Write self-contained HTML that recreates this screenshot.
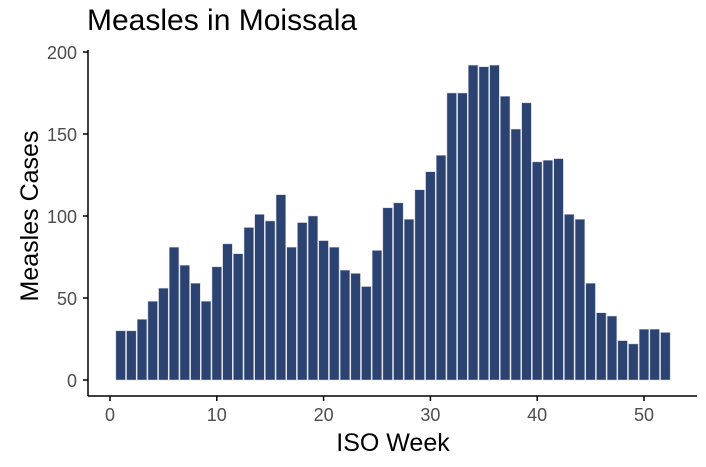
<!DOCTYPE html>
<html><head><meta charset="utf-8"><style>
body{margin:0;background:#fff;}
svg text{font-family:"Liberation Sans",sans-serif;}
</style></head><body>
<svg id="chart" width="706" height="462" xmlns="http://www.w3.org/2000/svg">
<text x="87" y="30" font-size="30" fill="#000">Measles in Moissala</text>
<g id="bars"></g>
<g id="axes"></g>
<text x="393" y="451" font-size="25" text-anchor="middle" fill="#000">ISO Week</text>
<text transform="translate(38,216) rotate(-90)" font-size="25" text-anchor="middle" fill="#000">Measles Cases</text>
</svg>
<script>
const weeks = [];
for (let i = 1; i <= 52; i++) weeks.push(i);
const cases = [30,30,37,48,56,81,70,59,48,69,83,77,93,101,97,113,81,96,100,85,81,67,65,57,79,105,108,98,116,127,137,175,175,192,191,192,173,153,169,133,134,135,101,98,59,41,39,24,22,31,31,29];
const yTicks = [0,50,100,150,200];
const xTicks = [0,10,20,30,40,50];

const ns = "http://www.w3.org/2000/svg";
const x = v => 110 + v * 10.68;
const y = v => 380 - v * 1.64;
const bw = 10.68 * 0.9;

const bars = document.getElementById('bars');
weeks.forEach((w, i) => {
  const r = document.createElementNS(ns, 'rect');
  r.setAttribute('x', x(w) - bw / 2);
  r.setAttribute('y', y(cases[i]));
  r.setAttribute('width', bw);
  r.setAttribute('height', y(0) - y(cases[i]));
  r.setAttribute('fill', '#2c4372');
  r.setAttribute('stroke', '#c9d0e0');
  r.setAttribute('stroke-width', '0.5');
  
  
  bars.appendChild(r);
});

const axes = document.getElementById('axes');
function line(x1, y1, x2, y2, name) {
  const l = document.createElementNS(ns, 'line');
  l.setAttribute('x1', x1); l.setAttribute('y1', y1);
  l.setAttribute('x2', x2); l.setAttribute('y2', y2);
  l.setAttribute('stroke', '#000');
  l.setAttribute('stroke-width', '1.5');
  
  
  axes.appendChild(l);
}
function text(tx, ty, s, anchor, name) {
  const t = document.createElementNS(ns, 'text');
  t.setAttribute('x', tx); t.setAttribute('y', ty);
  t.setAttribute('font-size', '18');
  t.setAttribute('fill', '#4d4d4d');
  t.setAttribute('text-anchor', anchor);
  t.textContent = s;
  
  
  axes.appendChild(t);
}
line(88, 50, 88, 396, 'y-axis-line');
line(88, 396, 697, 396, 'x-axis-line');
yTicks.forEach(v => {
  line(83, y(v), 88, y(v), 'y-tick');
  text(77, y(v) + 7, String(v), 'end', 'y-tick-label');
});
xTicks.forEach(v => {
  line(x(v), 396, x(v), 401, 'x-tick');
  text(x(v), 421, String(v), 'middle', 'x-tick-label');
});
</script>
</body></html>
